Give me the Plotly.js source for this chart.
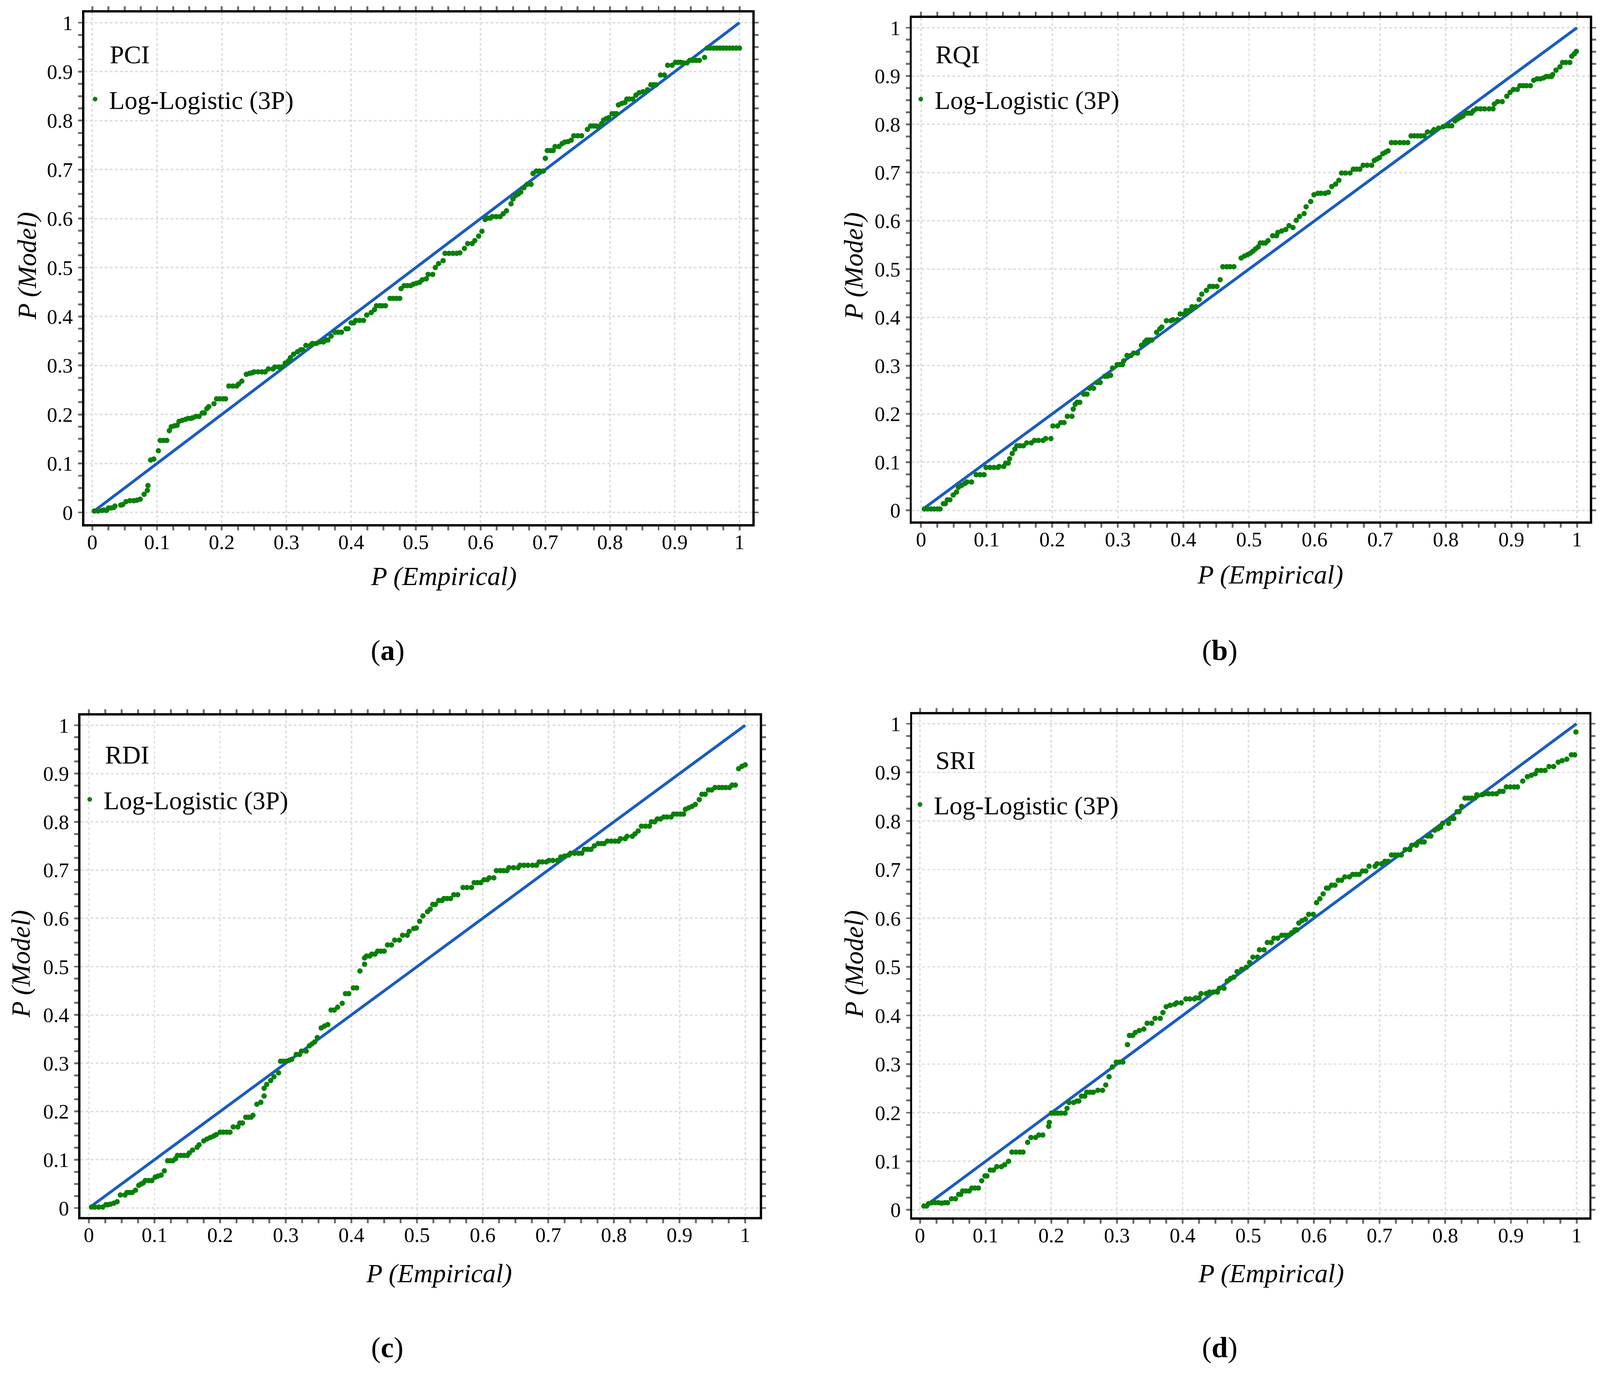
<!DOCTYPE html>
<html>
<head>
<meta charset="utf-8">
<script src="https://cdn.plot.ly/plotly-3.0.1.min.js"></script>
<style>html,body{margin:0;padding:0;background:#fff;overflow:hidden;}#chart{display:block;}</style>
</head>
<body>
<div id="chart"></div>
<script>
// ---------------- DATA ----------------
const panelNames = ['PCI', 'RQI', 'RDI', 'SRI'];
const panelLetters = ['a', 'b', 'c', 'd'];
const seriesName = 'Log-Logistic (3P)';
const xTitle = 'P (Empirical)';
const yTitle = 'P (Model)';
const tickVals = [0, 0.1, 0.2, 0.3, 0.4, 0.5, 0.6, 0.7, 0.8, 0.9, 1];
const tickText = ['0', '0.1', '0.2', '0.3', '0.4', '0.5', '0.6', '0.7', '0.8', '0.9', '1'];

// reference line (P model = P empirical), start and end of each line
const refLineA = [0.004, 1];
const refLineB = [0.005, 1];
const refLineC = [0.005, 1];
const refLineD = [0.013, 1];

// [P (Empirical), P (Model)] points
const pciPoints = [
[0.003,0.003],[0.009,0.003],[0.015,0.004],[0.018,0.005],[0.022,0.004],
[0.025,0.009],[0.029,0.009],[0.033,0.010],[0.035,0.013],[0.044,0.015],[0.047,0.016],
[0.052,0.022],[0.058,0.024],[0.064,0.024],[0.069,0.025],[0.074,0.027],[0.080,0.037],
[0.085,0.045],[0.086,0.055],[0.090,0.107],[0.095,0.109],[0.102,0.126],
[0.105,0.147],[0.110,0.147],[0.115,0.147],[0.119,0.167],
[0.122,0.175],[0.127,0.177],[0.131,0.178],[0.134,0.186],[0.139,0.188],[0.144,0.190],
[0.148,0.192],[0.152,0.192],[0.155,0.193],[0.160,0.196],[0.165,0.196],
[0.170,0.203],[0.173,0.203],[0.177,0.212],[0.180,0.216],[0.188,0.222],
[0.192,0.232],[0.197,0.232],[0.202,0.232],[0.206,0.232],
[0.211,0.258],[0.217,0.258],[0.223,0.258],[0.226,0.262],[0.231,0.268],
[0.238,0.282],[0.243,0.284],[0.247,0.285],
[0.250,0.287],[0.256,0.287],[0.262,0.287],[0.267,0.287],[0.272,0.293],[0.279,0.293],
[0.282,0.297],[0.288,0.297],[0.293,0.297],[0.298,0.305],[0.303,0.309],[0.306,0.316],
[0.311,0.323],[0.317,0.328],[0.322,0.332],[0.325,0.332],[0.330,0.341],[0.337,0.341],
[0.340,0.345],[0.346,0.345],[0.351,0.348],[0.357,0.348],[0.361,0.352],[0.364,0.352],
[0.369,0.360],[0.375,0.368],[0.380,0.368],[0.385,0.368],[0.392,0.375],[0.395,0.375],
[0.400,0.387],[0.404,0.387],[0.407,0.392],[0.413,0.392],[0.419,0.392],
[0.424,0.403],[0.431,0.408],[0.436,0.414],[0.439,0.422],[0.444,0.422],[0.448,0.422],
[0.453,0.422],[0.460,0.437],[0.465,0.437],[0.470,0.437],[0.475,0.437],[0.477,0.457],
[0.482,0.463],[0.487,0.463],[0.492,0.463],[0.496,0.466],[0.501,0.468],[0.506,0.470],
[0.510,0.475],[0.516,0.477],[0.519,0.486],[0.526,0.486],[0.530,0.500],[0.535,0.508],
[0.542,0.514],[0.545,0.529],[0.551,0.529],[0.557,0.529],[0.563,0.529],[0.568,0.530],
[0.575,0.539],[0.580,0.549],[0.587,0.549],[0.591,0.555],[0.597,0.564],[0.602,0.574],
[0.607,0.598],[0.611,0.601],[0.615,0.601],[0.618,0.604],[0.624,0.604],[0.630,0.604],
[0.635,0.610],[0.640,0.616],[0.647,0.630],[0.650,0.640],[0.654,0.647],[0.658,0.650],
[0.662,0.654],[0.667,0.663],[0.672,0.670],[0.678,0.670],
[0.681,0.692],[0.686,0.697],[0.691,0.697],[0.697,0.697],[0.700,0.723],
[0.703,0.739],[0.708,0.739],[0.712,0.739],[0.715,0.747],[0.721,0.747],
[0.726,0.753],[0.730,0.756],[0.735,0.757],[0.740,0.760],
[0.744,0.769],[0.750,0.769],[0.756,0.769],[0.765,0.782],
[0.770,0.789],[0.774,0.789],[0.778,0.789],[0.781,0.788],[0.787,0.794],
[0.790,0.801],[0.794,0.804],[0.798,0.806],[0.803,0.814],[0.807,0.814],[0.810,0.814],
[0.813,0.832],[0.818,0.835],[0.823,0.837],[0.826,0.844],[0.830,0.844],[0.835,0.844],
[0.840,0.852],[0.845,0.857],[0.851,0.859],[0.858,0.863],
[0.863,0.873],[0.867,0.873],[0.871,0.873],[0.878,0.893],[0.884,0.893],
[0.889,0.913],[0.896,0.913],[0.901,0.919],[0.905,0.919],[0.909,0.919],
[0.913,0.918],[0.919,0.918],[0.923,0.923],[0.928,0.923],[0.933,0.923],[0.938,0.923],
[0.946,0.929],[0.950,0.948],[0.955,0.948],[0.960,0.948],[0.965,0.948],[0.970,0.948],
[0.975,0.948],[0.980,0.948],[0.985,0.948],[0.990,0.948],[0.995,0.948],[1.000,0.948]
];

const rqiPoints = [
[0.005,0.003],[0.010,0.003],[0.015,0.003],[0.020,0.003],[0.025,0.003],[0.029,0.003],
[0.034,0.014],[0.037,0.014],[0.040,0.022],[0.044,0.022],[0.049,0.032],[0.054,0.038],
[0.057,0.048],[0.062,0.052],[0.067,0.056],[0.070,0.059],[0.077,0.059],
[0.084,0.074],[0.090,0.074],[0.096,0.074],
[0.099,0.089],[0.105,0.089],[0.111,0.089],[0.117,0.089],[0.119,0.091],[0.126,0.091],
[0.129,0.098],[0.133,0.098],[0.135,0.107],[0.139,0.118],[0.143,0.127],
[0.146,0.134],[0.151,0.134],[0.156,0.134],[0.161,0.140],[0.168,0.140],
[0.173,0.145],[0.179,0.145],[0.186,0.145],[0.190,0.149],[0.198,0.149],
[0.201,0.175],[0.208,0.175],[0.213,0.182],[0.218,0.182],[0.223,0.195],[0.230,0.195],
[0.232,0.210],[0.235,0.220],[0.238,0.224],[0.242,0.224],[0.248,0.241],[0.253,0.241],
[0.257,0.253],[0.263,0.253],[0.268,0.265],[0.273,0.265],
[0.280,0.278],[0.284,0.278],[0.289,0.280],[0.292,0.295],
[0.299,0.302],[0.303,0.302],[0.307,0.302],[0.309,0.310],[0.314,0.321],[0.320,0.321],
[0.324,0.326],[0.330,0.326],[0.336,0.342],[0.341,0.349],
[0.344,0.353],[0.348,0.353],[0.352,0.353],[0.359,0.369],[0.364,0.376],[0.367,0.380],
[0.374,0.393],[0.381,0.393],[0.384,0.395],[0.391,0.395],[0.395,0.407],[0.401,0.407],
[0.404,0.414],[0.409,0.414],[0.413,0.422],[0.419,0.422],[0.424,0.437],
[0.428,0.448],[0.435,0.456],[0.440,0.464],[0.445,0.464],[0.451,0.464],[0.456,0.478],
[0.460,0.505],[0.466,0.505],[0.471,0.505],[0.477,0.505],
[0.488,0.523],[0.493,0.527],[0.498,0.530],[0.502,0.533],[0.506,0.537],[0.510,0.542],
[0.514,0.546],[0.517,0.554],[0.521,0.554],[0.525,0.554],[0.529,0.559],
[0.536,0.569],[0.542,0.569],[0.544,0.576],[0.550,0.579],[0.556,0.582],
[0.561,0.590],[0.567,0.586],[0.572,0.601],[0.577,0.609],[0.584,0.615],[0.587,0.629],
[0.594,0.640],[0.599,0.654],[0.605,0.657],[0.610,0.657],[0.616,0.657],[0.621,0.659],
[0.626,0.671],[0.632,0.676],[0.637,0.684],[0.641,0.699],[0.647,0.699],[0.654,0.699],
[0.659,0.707],[0.664,0.707],[0.669,0.707],[0.674,0.715],[0.680,0.715],[0.687,0.715],
[0.691,0.725],[0.695,0.728],[0.699,0.731],[0.704,0.739],[0.708,0.742],[0.712,0.745],
[0.717,0.762],[0.723,0.762],[0.730,0.762],[0.736,0.762],[0.742,0.762],
[0.747,0.776],[0.752,0.776],[0.757,0.776],[0.762,0.776],[0.767,0.776],
[0.772,0.784],[0.779,0.784],[0.782,0.789],[0.789,0.792],[0.796,0.795],
[0.801,0.797],[0.805,0.797],[0.809,0.797],[0.814,0.807],[0.818,0.811],[0.822,0.814],
[0.826,0.817],[0.831,0.823],[0.835,0.823],[0.839,0.823],[0.842,0.828],
[0.847,0.832],[0.853,0.832],[0.859,0.832],[0.866,0.832],[0.872,0.832],
[0.874,0.842],[0.879,0.847],[0.886,0.847],[0.893,0.858],[0.898,0.866],
[0.903,0.872],[0.909,0.872],[0.913,0.880],[0.918,0.880],[0.923,0.880],[0.929,0.880],
[0.934,0.891],[0.939,0.894],[0.944,0.894],[0.949,0.896],
[0.953,0.899],[0.957,0.899],[0.961,0.899],[0.963,0.903],[0.968,0.912],[0.974,0.919],
[0.978,0.928],[0.983,0.928],[0.989,0.928],[0.992,0.941],[0.996,0.946],[0.999,0.951]
];

const rdiPoints = [
[0.004,0.002],[0.009,0.002],[0.015,0.002],[0.021,0.002],[0.026,0.007],[0.029,0.007],
[0.033,0.008],[0.038,0.010],[0.043,0.013],[0.048,0.027],[0.055,0.027],
[0.058,0.032],[0.062,0.032],[0.066,0.032],[0.071,0.037],
[0.076,0.047],[0.080,0.050],[0.083,0.052],[0.086,0.057],[0.091,0.057],[0.096,0.057],
[0.101,0.064],[0.105,0.066],[0.110,0.068],[0.115,0.077],
[0.120,0.098],[0.124,0.098],[0.128,0.098],[0.132,0.102],
[0.135,0.109],[0.140,0.109],[0.145,0.109],[0.150,0.109],[0.153,0.114],
[0.158,0.120],[0.165,0.126],[0.168,0.131],[0.175,0.139],
[0.180,0.143],[0.185,0.146],[0.190,0.149],[0.194,0.152],
[0.200,0.157],[0.205,0.157],[0.210,0.157],[0.215,0.157],[0.220,0.168],[0.227,0.168],
[0.230,0.176],[0.234,0.176],[0.239,0.188],[0.243,0.188],[0.247,0.188],[0.250,0.192],
[0.256,0.215],[0.262,0.219],[0.267,0.232],[0.267,0.248],[0.271,0.256],[0.277,0.264],
[0.282,0.272],[0.289,0.280],[0.292,0.304],[0.296,0.304],[0.300,0.304],[0.305,0.306],
[0.309,0.308],[0.316,0.318],[0.321,0.318],[0.324,0.325],[0.331,0.325],
[0.336,0.336],[0.340,0.340],[0.344,0.344],[0.348,0.353],
[0.354,0.373],[0.359,0.377],[0.364,0.380],[0.369,0.410],[0.374,0.410],
[0.379,0.416],[0.386,0.424],[0.391,0.444],[0.396,0.444],[0.403,0.456],[0.408,0.456],
[0.413,0.491],[0.420,0.505],[0.420,0.518],[0.423,0.522],[0.428,0.522],
[0.431,0.526],[0.436,0.526],[0.440,0.532],[0.445,0.532],[0.450,0.532],
[0.455,0.545],[0.461,0.545],[0.466,0.555],[0.473,0.555],[0.478,0.565],[0.485,0.565],
[0.488,0.573],[0.495,0.579],[0.499,0.580],[0.504,0.594],[0.509,0.605],[0.516,0.614],
[0.520,0.619],[0.524,0.629],[0.528,0.629],[0.533,0.637],[0.538,0.637],
[0.541,0.641],[0.546,0.641],[0.551,0.641],[0.556,0.649],[0.562,0.649],
[0.570,0.664],[0.576,0.664],[0.583,0.664],[0.587,0.674],[0.592,0.674],[0.597,0.674],
[0.602,0.680],[0.607,0.680],[0.610,0.684],[0.617,0.684],
[0.621,0.699],[0.627,0.699],[0.632,0.699],[0.637,0.699],[0.640,0.705],[0.647,0.705],[0.654,0.705],
[0.657,0.710],[0.663,0.710],[0.669,0.710],[0.676,0.710],[0.682,0.710],
[0.686,0.717],[0.691,0.717],[0.697,0.717],[0.701,0.720],[0.707,0.720],[0.714,0.720],
[0.719,0.727],[0.725,0.729],[0.731,0.731],[0.734,0.735],[0.740,0.735],[0.746,0.735],[0.751,0.735],
[0.755,0.743],[0.760,0.743],[0.765,0.743],[0.770,0.750],
[0.776,0.755],[0.781,0.755],[0.785,0.755],[0.790,0.760],[0.796,0.760],[0.802,0.760],[0.807,0.760],
[0.810,0.765],[0.817,0.765],[0.820,0.770],[0.828,0.770],[0.832,0.775],[0.837,0.781],
[0.842,0.791],[0.848,0.791],[0.854,0.791],[0.857,0.800],[0.862,0.800],
[0.866,0.806],[0.871,0.806],[0.876,0.810],[0.881,0.810],[0.887,0.810],
[0.891,0.816],[0.896,0.816],[0.901,0.816],[0.906,0.816],
[0.909,0.826],[0.914,0.829],[0.919,0.832],[0.924,0.836],[0.930,0.846],
[0.934,0.857],[0.939,0.857],[0.944,0.866],[0.949,0.866],
[0.954,0.871],[0.960,0.871],[0.965,0.871],[0.970,0.871],[0.976,0.871],
[0.980,0.876],[0.985,0.876],[0.990,0.910],[0.995,0.915],[1.000,0.918]
];

const sriPoints = [
[0.006,0.008],[0.010,0.008],[0.013,0.013],[0.018,0.015],[0.023,0.015],[0.028,0.015],
[0.033,0.014],[0.038,0.015],[0.042,0.015],[0.048,0.023],[0.054,0.023],
[0.059,0.032],[0.062,0.032],[0.065,0.039],[0.070,0.039],[0.075,0.039],
[0.079,0.045],[0.084,0.045],[0.089,0.045],[0.094,0.060],[0.099,0.070],[0.102,0.070],
[0.107,0.082],[0.112,0.082],[0.117,0.089],[0.124,0.089],[0.129,0.093],[0.135,0.100],
[0.140,0.119],[0.146,0.119],[0.152,0.119],[0.157,0.119],[0.164,0.139],
[0.169,0.149],[0.176,0.149],[0.181,0.154],[0.187,0.154],[0.196,0.172],[0.197,0.180],
[0.200,0.199],[0.205,0.199],[0.210,0.199],[0.215,0.199],[0.221,0.199],[0.224,0.209],
[0.227,0.221],[0.234,0.221],[0.239,0.224],[0.242,0.224],[0.246,0.234],[0.251,0.234],
[0.254,0.242],[0.259,0.242],[0.264,0.242],[0.271,0.246],[0.278,0.246],
[0.283,0.257],[0.288,0.274],[0.293,0.294],[0.299,0.304],[0.304,0.304],[0.309,0.304],
[0.316,0.340],[0.319,0.359],[0.324,0.359],[0.328,0.365],[0.334,0.369],[0.341,0.372],
[0.346,0.384],[0.353,0.384],[0.358,0.394],[0.366,0.394],[0.370,0.406],
[0.375,0.418],[0.381,0.421],[0.388,0.423],[0.391,0.426],[0.398,0.426],
[0.405,0.434],[0.411,0.434],[0.418,0.434],[0.420,0.436],[0.425,0.436],
[0.428,0.445],[0.436,0.445],[0.441,0.448],[0.447,0.448],[0.453,0.448],
[0.456,0.456],[0.463,0.456],[0.468,0.471],[0.473,0.476],[0.478,0.479],
[0.483,0.490],[0.490,0.495],[0.497,0.499],[0.502,0.509],[0.507,0.520],[0.514,0.520],
[0.517,0.535],[0.524,0.535],[0.529,0.550],[0.535,0.550],[0.539,0.559],[0.545,0.559],
[0.551,0.565],[0.556,0.565],[0.561,0.565],[0.566,0.570],[0.571,0.576],[0.574,0.576],
[0.577,0.590],[0.582,0.595],[0.587,0.598],[0.592,0.608],[0.599,0.608],
[0.604,0.632],[0.609,0.640],[0.614,0.650],[0.619,0.662],[0.622,0.662],
[0.627,0.668],[0.632,0.668],[0.637,0.678],[0.642,0.678],[0.647,0.685],[0.654,0.685],
[0.659,0.690],[0.664,0.690],[0.669,0.690],[0.674,0.697],[0.679,0.697],
[0.684,0.707],[0.693,0.707],[0.696,0.712],[0.703,0.712],[0.708,0.717],[0.713,0.717],
[0.718,0.730],[0.723,0.730],[0.728,0.730],[0.733,0.730],[0.739,0.741],[0.746,0.741],
[0.749,0.750],[0.756,0.750],[0.759,0.757],[0.764,0.757],[0.768,0.757],
[0.773,0.769],[0.778,0.769],[0.784,0.781],[0.789,0.784],[0.793,0.787],
[0.796,0.795],[0.805,0.795],[0.808,0.805],[0.813,0.805],[0.818,0.819],[0.821,0.819],
[0.825,0.830],[0.830,0.847],[0.835,0.847],[0.840,0.847],[0.845,0.847],
[0.848,0.854],[0.856,0.854],[0.860,0.856],[0.866,0.856],[0.872,0.856],[0.878,0.856],
[0.883,0.861],[0.888,0.861],[0.893,0.870],[0.899,0.870],[0.905,0.870],[0.910,0.870],
[0.918,0.882],[0.925,0.891],[0.931,0.894],[0.937,0.897],
[0.940,0.904],[0.946,0.904],[0.952,0.904],[0.958,0.912],[0.965,0.912],
[0.972,0.921],[0.978,0.924],[0.985,0.927],[0.992,0.936],[0.997,0.936],[0.999,0.983]
];

// ---------------- STYLE / LAYOUT ----------------
const FONT = "'Liberation Serif', 'Times New Roman', Times, serif";
const REF_W = 4176, REF_H = 3518;
// size to the real viewport so nothing gets cut off
const W = window.innerWidth || REF_W;
const H = window.innerHeight || REF_H;
const S = Math.min(W / REF_W, H / REF_H);
const k = v => v * S;
document.getElementById('chart').style.width = W + 'px';
document.getElementById('chart').style.height = H + 'px';

const GREEN = '#078007';
const BLUE = '#1a5cc0';

const pointsAll = [pciPoints, rqiPoints, rdiPoints, sriPoints];
const refAll = [refLineA, refLineB, refLineC, refLineD];

// positions in reference-image pixels (converted to paper fractions below)
const frames = [[220, 1964, 32, 1342], [2380, 4150, 46, 1335], [210, 1983, 1832, 3116], [2381, 4148, 1829, 3117]];
const xRanges = [[-0.0124, 1.0201], [-0.014, 1.0199], [-0.0128, 1.0222], [-0.0117, 1.0193]];
const yRanges = [[-0.0239, 1.0207], [-0.0227, 1.0202], [-0.0186, 1.0202], [-0.0153, 1.0193]];
const namePos = [[284, 140], [2440, 140], [272, 1932], [2440, 1946]];
const legendSym = [[248, 254], [2403, 254], [234, 2047], [2401, 2060]];
const xTitlePos = [[1158, 1475], [3316, 1471], [1146, 3260], [3318, 3260]];
const yTitlePos = [[70, 681], [2228, 681], [54, 2468], [2229, 2468]];
const letterPos = [[1012, 1665], [3183, 1665], [1011, 3450], [3183, 3450]];

const px = v => v / REF_W;
const py = v => 1 - v / REF_H;

const traces = [];
const layout = {
  width: W, height: H,
  margin: {l: 0, r: 0, t: 0, b: 0},
  paper_bgcolor: '#ffffff', plot_bgcolor: '#ffffff',
  font: {family: FONT, size: k(54), color: '#000'},
  annotations: [], shapes: []
};

function axisBase(domain, range, anchor) {
  return {
    domain: domain, range: range, anchor: anchor,
    tickmode: 'array', tickvals: tickVals, ticktext: tickText,
    ticks: 'outside', ticklen: k(10), tickwidth: k(5), tickcolor: '#6e6e6e',
    minor: {tickmode: 'linear', tick0: 0, dtick: 0.025, ticks: 'outside', ticklen: k(10), tickwidth: k(5), tickcolor: '#6e6e6e', showgrid: false},
    showline: true, linecolor: '#000', linewidth: k(6), mirror: 'ticks',
    showgrid: true, gridcolor: '#dedede', gridwidth: k(4), griddash: Math.round(k(7)) + 'px,' + Math.round(k(6)) + 'px',
    zeroline: false, automargin: false, fixedrange: true,
    tickfont: {family: FONT, size: k(54), color: '#000'}
  };
}

for (let i = 0; i < 4; i++) {
  const s = i === 0 ? '' : String(i + 1);
  const f = frames[i];
  const xa = axisBase([px(f[0]), px(f[1])], xRanges[i], 'y' + s);
  xa.ticklabelstandoff = Math.round(k(-15));
  const ya = axisBase([py(f[3]), py(f[2])], yRanges[i], 'x' + s);
  ya.ticklabelstandoff = Math.round(k(3));
  layout['xaxis' + s] = xa;
  layout['yaxis' + s] = ya;

  const pts = pointsAll[i];
  // reference diagonal
  traces.push({
    type: 'scatter', mode: 'lines', xaxis: 'x' + s, yaxis: 'y' + s,
    x: refAll[i], y: refAll[i], showlegend: false, hoverinfo: 'skip',
    line: {color: BLUE, width: k(7.5)}
  });
  // P-P points
  traces.push({
    type: 'scatter', mode: 'markers', xaxis: 'x' + s, yaxis: 'y' + s,
    name: seriesName, legend: 'legend' + s,
    x: pts.map(p => p[0]), y: pts.map(p => p[1]),
    marker: {color: GREEN, size: k(14), line: {width: 0}}
  });

  layout['legend' + s] = {
    x: px(legendSym[i][0] - 36), y: py(legendSym[i][1]),
    xanchor: 'left', yanchor: 'middle',
    bgcolor: 'rgba(0,0,0,0)', borderwidth: 0,
    itemwidth: Math.max(30, Math.round(k(62))),
    itemsizing: 'constant',
    font: {family: FONT, size: k(67), color: '#000'}
  };

  layout.annotations.push({
    xref: 'paper', yref: 'paper', x: px(namePos[i][0]), y: py(namePos[i][1]),
    xanchor: 'left', yanchor: 'middle', showarrow: false,
    text: panelNames[i], font: {family: FONT, size: k(67), color: '#000'}
  });
  layout.annotations.push({
    xref: 'paper', yref: 'paper', x: px(xTitlePos[i][0]), y: py(xTitlePos[i][1]),
    xanchor: 'center', yanchor: 'middle', showarrow: false,
    text: '<i>' + xTitle + '</i>', font: {family: FONT, size: k(69), color: '#000'}
  });
  layout.annotations.push({
    xref: 'paper', yref: 'paper', x: px(yTitlePos[i][0]), y: py(yTitlePos[i][1]),
    xanchor: 'center', yanchor: 'middle', showarrow: false, textangle: -90,
    text: '<i>' + yTitle + '</i>', font: {family: FONT, size: k(69), color: '#000'}
  });
  layout.annotations.push({
    xref: 'paper', yref: 'paper', x: px(letterPos[i][0]), y: py(letterPos[i][1]),
    xanchor: 'center', yanchor: 'middle', showarrow: false,
    text: '(<b>' + panelLetters[i] + '</b>)', font: {family: FONT, size: k(76), color: '#000'}
  });
}

Plotly.newPlot('chart', traces, layout, {staticPlot: true, displayModeBar: false});
</script>
</body>
</html>
